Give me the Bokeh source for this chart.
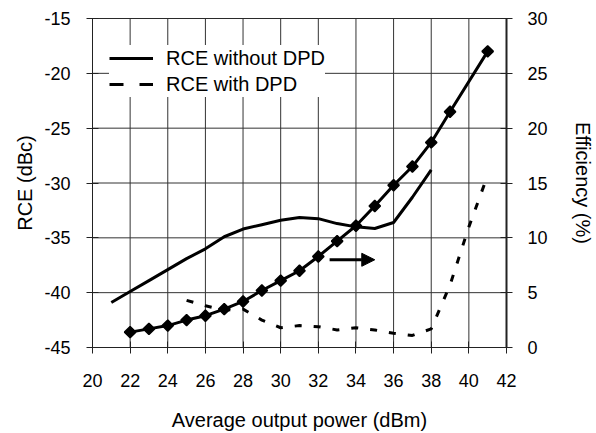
import math
from bokeh.plotting import figure
from bokeh.models import (Range1d, LinearAxis, SingleIntervalTicker, Legend, LegendItem,
                          Arrow, NormalHead, PrintfTickFormatter)
from bokeh.embed import file_html
from bokeh.resources import INLINE

# ---- data ----
x_rce_nodpd = [21, 22, 23, 24, 25, 26, 27, 28, 29, 30, 31, 32, 33, 34, 35, 36, 37, 38]
rce_nodpd = [-40.9, -39.9, -38.9, -37.9, -36.9, -36.0, -34.9, -34.2, -33.8, -33.4,
             -33.15, -33.25, -33.7, -34.0, -34.15, -33.6, -31.3, -28.8]

x_rce_dpd = [25, 26, 27, 28, 29, 30, 31, 32, 33, 34, 35, 36, 37, 38, 39, 40, 41]
rce_dpd = [-40.7, -41.2, -41.6, -41.5, -42.5, -43.2, -43.0, -43.1, -43.4, -43.2,
           -43.4, -43.7, -43.9, -43.3, -39.3, -34.0, -29.3]

x_eff = [22, 23, 24, 25, 26, 27, 28, 29, 30, 31, 32, 33, 34, 35, 36, 37, 38, 39, 41]
eff = [1.4, 1.7, 2.0, 2.5, 2.9, 3.5, 4.2, 5.2, 6.1, 7.0, 8.3, 9.7, 11.1, 12.9, 14.8,
       16.5, 18.7, 21.5, 27.0]

# axis limits and tick positions
x_lim = [20, 42]
y_lim = [-45, -15]
y2_lim = [0, 30]
x_ticks = [20, 22, 24, 26, 28, 30, 32, 34, 36, 38, 40, 42]
y_ticks = [-45, -40, -35, -30, -25, -20, -15]

arrow_x = [32.6, 35.0]
arrow_y = -37.0

x_label = "Average output power (dBm)"
y_label = "RCE (dBc)"
y2_label = "Efficiency (%)"
legend_labels = ["RCE without DPD", "RCE with DPD"]

FONT = "Liberation Sans"

p = figure(width=596, height=433, output_backend="svg", toolbar_location=None,
           x_range=Range1d(*x_lim), y_range=Range1d(*y_lim),
           min_border_left=92, min_border_right=79, min_border_top=18, min_border_bottom=84)
p.extra_y_ranges = {"eff": Range1d(*y2_lim)}
p.background_fill_color = "white"
p.border_fill_color = "white"
p.outline_line_color = "#222222"
p.outline_line_width = 1
p.grid.visible = False

p.xaxis.ticker = SingleIntervalTicker(interval=2)
p.yaxis.ticker = SingleIntervalTicker(interval=5)

# grid lines drawn as glyphs at the tick positions
p.multi_line(xs=[[t, t] for t in x_ticks], ys=[y_lim for _ in x_ticks],
             line_color="#333333", line_width=1)
p.multi_line(xs=[x_lim for _ in y_ticks], ys=[[t, t] for t in y_ticks],
             line_color="#333333", line_width=1)

def style_axis(ax, label, tick_standoff, label_standoff):
    ax.axis_label = label
    ax.axis_label_text_font = FONT
    ax.axis_label_text_font_style = "normal"
    ax.axis_label_text_font_size = "20px"
    ax.axis_label_text_color = "black"
    ax.axis_label_standoff = label_standoff
    ax.major_label_text_font = FONT
    ax.major_label_text_font_size = "18px"
    ax.major_label_text_color = "black"
    ax.major_label_standoff = tick_standoff
    ax.major_tick_in = 6
    ax.major_tick_out = 6
    ax.minor_tick_in = 0
    ax.minor_tick_out = 0
    ax.axis_line_color = "#222222"
    ax.major_tick_line_color = "#222222"
    ax.formatter = PrintfTickFormatter(format="%d")

style_axis(p.xaxis[0], x_label, 20, 19)
style_axis(p.yaxis[0], y_label, 16, 5)

ax2 = LinearAxis(y_range_name="eff", ticker=SingleIntervalTicker(interval=5))
style_axis(ax2, y2_label, 15, 21)
ax2.axis_line_width = 2
p.add_layout(ax2, "right")

# RCE without DPD (solid)
r_solid = p.line(x_rce_nodpd, rce_nodpd, line_color="black", line_width=3)
# RCE with DPD (dashed)
r_dash = p.line(x_rce_dpd, rce_dpd, line_color="black", line_width=3, line_dash="7 12")
# Efficiency with diamonds
p.line(x_eff, eff, y_range_name="eff", line_color="black", line_width=3)
p.scatter(x_eff, eff, y_range_name="eff", marker="square", angle=math.pi / 4, size=8,
          fill_color="black", line_color="black", line_width=1.5)

# arrow pointing at the right axis
p.add_layout(Arrow(end=NormalHead(size=13, fill_color="black", line_color="black"),
                   x_start=arrow_x[0], y_start=arrow_y, x_end=arrow_x[1], y_end=arrow_y,
                   line_color="black", line_width=3))

# legend (hidden copy of the dashed style with a longer dash for the sample)
r_dash_leg = p.line([float("nan")], [float("nan")], line_color="black", line_width=3,
                    line_dash="14 16")
legend = Legend(items=[LegendItem(label=legend_labels[0], renderers=[r_solid]),
                       LegendItem(label=legend_labels[1], renderers=[r_dash_leg])],
                location=(17, 250), glyph_width=44, glyph_height=26, label_height=26,
                label_standoff=13, spacing=0, padding=4, margin=0,
                border_line_color=None, background_fill_color="white",
                background_fill_alpha=1.0,
                label_text_font=FONT, label_text_font_size="20px", label_text_color="black")
p.add_layout(legend)

open("out.html", "w").write(file_html(p, INLINE))
